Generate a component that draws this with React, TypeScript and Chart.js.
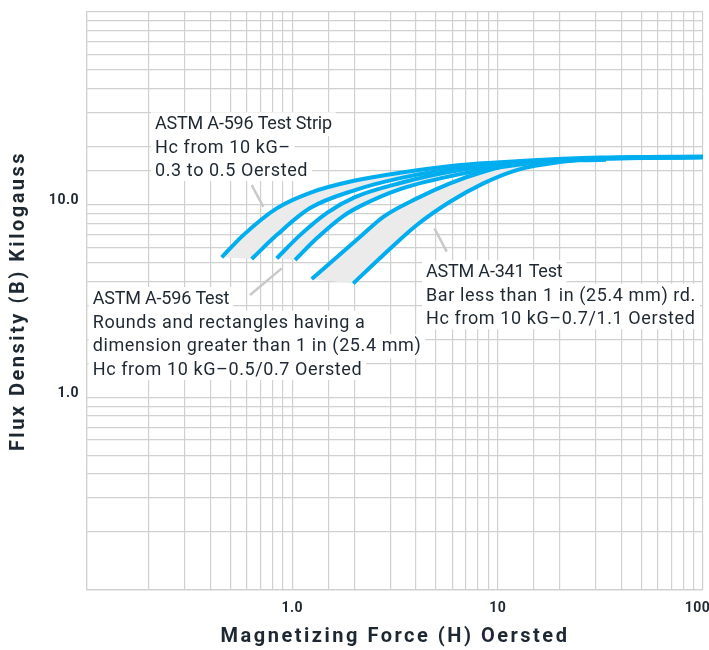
import React, { useEffect, useRef } from 'react';
import { Chart, registerables } from 'chart.js';

Chart.register(...registerables);

// Magnetizing force H (Oersted) and flux density B (kilogauss)
const stripA_H = [0.453, 0.577, 0.839, 1.22, 2.02, 3.35, 6.56, 12.85, 31.5, 100];
const stripA_B = [5.33, 6.95, 9.57, 11.53, 13.34, 14.64, 16.05, 16.84, 17.55, 17.77];
const stripB_H = [0.634, 0.839, 1.22, 2.02, 3.35, 6.56, 12.85, 33.7];
const stripB_B = [5.22, 6.95, 9.6, 11.91, 13.74, 15.48, 16.63, 17.1];
const roundsA_H = [0.839, 1.09, 1.47, 2.02, 3.35, 6.56, 12.85, 33.7, 100];
const roundsA_B = [5.26, 6.95, 9.05, 10.95, 12.95, 15.12, 16.44, 17.45, 17.66];
const roundsB_H = [1.031, 1.315, 1.77, 2.14, 3.35, 6.56, 12.85, 33.7, 100];
const roundsB_B = [5.16, 6.69, 8.73, 9.83, 12.05, 14.41, 16.15, 17.34, 17.66];
const barA_H = [1.243, 2.14, 2.775, 4.04, 5.86, 8.52, 12.85, 20.1, 33.7, 100];
const barA_B = [4.11, 6.81, 8.65, 10.78, 12.9, 14.82, 16.44, 17.04, 17.45, 17.66];
const barB_H = [1.98, 2.775, 4.04, 5.86, 8.52, 12.39, 20.1, 33.7, 100];
const barB_B = [3.9, 5.48, 7.84, 10.35, 12.9, 15.12, 16.63, 17.34, 17.55];

const xTickValues = [1, 10, 100];
const xTickLabels = ['1.0', '10', '100\u2002\u2009'];
const yTickValues = [1, 10];
const yTickLabels = ['1.0', '10.0'];

const xTitle = 'Magnetizing Force (H) Oersted';
const yTitle = 'Flux Density (B) Kilogauss';

const note1Lines = ['ASTM A-596 Test Strip', 'Hc from 10 kG\u2013', '0.3 to 0.5 Oersted'];
const note2Lines = [
  'ASTM A-596 Test',
  'Rounds and rectangles having a',
  'dimension greater than 1 in (25.4 mm)',
  'Hc from 10 kG\u20130.5/0.7 Oersted',
];
const note3Lines = ['ASTM A-341 Test', 'Bar less than 1 in (25.4 mm) rd.', 'Hc from 10 kG\u20130.7/1.1 Oersted'];

const BLUE = '#00aeef';
const GRID = '#d0d0d0';
const TEXT = '#1e2833';
const BAND = '#ebebeb';

const toPoints = (hs: number[], bs: number[]) => hs.map((h, i) => ({ x: h, y: bs[i] }));

const series = [
  toPoints(stripA_H, stripA_B),
  toPoints(stripB_H, stripB_B),
  toPoints(roundsA_H, roundsA_B),
  toPoints(roundsB_H, roundsB_B),
  toPoints(barA_H, barA_B),
  toPoints(barB_H, barB_B),
];

const bandPairs = [
  [0, 1],
  [2, 3],
  [4, 5],
];

const notes = [
  { lines: note1Lines, x: 155, y: 129.3, gap: 23.4, leader: [[0.634, 12.64], [0.7227, 9.75]] },
  { lines: note2Lines, x: 92.7, y: 304, gap: 23.7, leader: [[0.622, 3.4], [0.888, 4.67]] },
  { lines: note3Lines, x: 426, y: 277.3, gap: 23.5, leader: [[4.92, 7.53], [5.65, 5.7]] },
];

const near = (a: number, b: number) => Math.abs(a - b) < 1e-6 * Math.max(1, b);

function tracePts(ctx: CanvasRenderingContext2D, pts: any[], reverse: boolean, first: boolean) {
  const p = reverse ? [...pts].reverse() : pts;
  if (first) ctx.moveTo(p[0].x, p[0].y);
  else ctx.lineTo(p[0].x, p[0].y);
  for (let i = 1; i < p.length; i++) {
    const prev = p[i - 1];
    const cur = p[i];
    if (prev.cp2x === undefined || cur.cp1x === undefined) {
      ctx.lineTo(cur.x, cur.y);
    } else if (!reverse) {
      ctx.bezierCurveTo(prev.cp2x, prev.cp2y, cur.cp1x, cur.cp1y, cur.x, cur.y);
    } else {
      ctx.bezierCurveTo(prev.cp1x, prev.cp1y, cur.cp2x, cur.cp2y, cur.x, cur.y);
    }
  }
}

const bandsPlugin = {
  id: 'bands',
  beforeDatasetsDraw(chart: any) {
    const ctx = chart.ctx as CanvasRenderingContext2D;
    const area = chart.chartArea;
    ctx.save();
    ctx.beginPath();
    ctx.rect(area.left, area.top, area.right - area.left, area.bottom - area.top);
    ctx.clip();
    ctx.fillStyle = BAND;
    for (const [a, b] of bandPairs) {
      const ma = chart.getDatasetMeta(a);
      const mb = chart.getDatasetMeta(b);
      ma.dataset.updateControlPoints(area, 'x');
      mb.dataset.updateControlPoints(area, 'x');
      ctx.beginPath();
      tracePts(ctx, ma.data, false, true);
      tracePts(ctx, mb.data, true, false);
      ctx.closePath();
      ctx.fill();
    }
    ctx.restore();
    // tick labels (drawn after the datasets) get a narrower letter spacing
    (ctx as any).letterSpacing = '0.5px';
  },
};

const spacingPlugin = {
  id: 'spacing',
  beforeDraw(chart: any) {
    (chart.ctx as any).letterSpacing = '2.5px';
  },
};

const notesPlugin = {
  id: 'notes',
  afterDraw(chart: any) {
    const ctx = chart.ctx as CanvasRenderingContext2D;
    const xs = chart.scales.x;
    const ys = chart.scales.y;
    ctx.save();
    ctx.font = '18px Roboto';
    ctx.textBaseline = 'alphabetic';
    ctx.textAlign = 'left';
    const spacingFor = (i: number) => (i === 0 ? '-0.2px' : '0.6px');
    for (const n of notes) {
      n.lines.forEach((t, i) => {
        (ctx as any).letterSpacing = spacingFor(i);
        const by = n.y + i * n.gap;
        const w = ctx.measureText(t).width;
        const top = by - 17;
        const h = i === n.lines.length - 1 ? 22 : n.gap + 0.5;
        ctx.fillStyle = '#ffffff';
        ctx.fillRect(n.x - 4, top, w + 8, h);
      });
    }
    for (const n of notes) {
      ctx.fillStyle = TEXT;
      n.lines.forEach((t, i) => {
        (ctx as any).letterSpacing = spacingFor(i);
        ctx.fillText(t, n.x, n.y + i * n.gap);
      });
      ctx.strokeStyle = '#c9c9c9';
      ctx.lineWidth = 2.5;
      ctx.lineCap = 'butt';
      ctx.beginPath();
      ctx.moveTo(xs.getPixelForValue(n.leader[0][0]), ys.getPixelForValue(n.leader[0][1]));
      ctx.lineTo(xs.getPixelForValue(n.leader[1][0]), ys.getPixelForValue(n.leader[1][1]));
      ctx.stroke();
    }
    ctx.restore();
    (ctx as any).letterSpacing = '0px';
  },
};

export default function App() {
  const ref = useRef<HTMLCanvasElement>(null);
  useEffect(() => {
    if (!ref.current) return;
    Chart.defaults.font.family = 'Roboto';
    const chart = new Chart(ref.current, {
      type: 'line',
      data: {
        datasets: series.map((pts) => ({
          data: pts,
          borderColor: BLUE,
          borderWidth: 4,
          pointRadius: 0,
          pointHoverRadius: 0,
          fill: false,
          cubicInterpolationMode: 'monotone' as const,
          borderCapStyle: 'butt' as const,
          borderJoinStyle: 'round' as const,
        })),
      },
      options: {
        responsive: false,
        animation: false,
        events: [],
        layout: { padding: { top: 12, right: 6, left: 0, bottom: 0 } },
        plugins: {
          legend: { display: false },
          tooltip: { enabled: false },
        },
        scales: {
          x: {
            type: 'logarithmic',
            position: 'bottom',
            min: 0.1,
            max: 100,
            grid: { color: GRID, lineWidth: 1.2, drawTicks: false },
            border: { color: GRID, width: 1.2 },
            ticks: {
              autoSkip: false,
              maxRotation: 0,
              minRotation: 0,
              padding: 10,
              z: 1,
              color: TEXT,
              font: { size: 14, weight: 'bold' },
              callback: (v: any) => {
                const i = xTickValues.findIndex((t) => near(Number(v), t));
                return i >= 0 ? xTickLabels[i] : '';
              },
            },
            title: {
              display: true,
              text: xTitle,
              color: TEXT,
              font: { size: 20, weight: 'bold', lineHeight: 1 },
              padding: { top: 0, bottom: 3.5 },
            },
            afterFit: (s: any) => {
              s.height = 60;
              s.paddingLeft = 0;
              s.paddingRight = 0;
            },
          },
          y: {
            type: 'logarithmic',
            min: 0.1,
            max: 100,
            grid: { color: GRID, lineWidth: 1.2, drawTicks: false },
            border: { color: GRID, width: 1.2 },
            ticks: {
              autoSkip: false,
              padding: 8,
              z: 1,
              labelOffset: -4,
              color: TEXT,
              font: { size: 14, weight: 'bold' },
              callback: (v: any) => {
                const i = yTickValues.findIndex((t) => near(Number(v), t));
                return i >= 0 ? yTickLabels[i] : '';
              },
            },
            title: {
              display: true,
              text: yTitle,
              color: TEXT,
              font: { size: 20, weight: 'bold', lineHeight: 1 },
              padding: { top: 9, bottom: 0 },
            },
            afterFit: (s: any) => {
              s.width = 87;
              s.paddingTop = 0;
              s.paddingBottom = 0;
            },
          },
        },
      } as any,
      plugins: [spacingPlugin, bandsPlugin, notesPlugin],
    });
    return () => chart.destroy();
  }, []);
  return (
    <div style={{ position: 'absolute', left: 0, top: 0, width: 709, height: 650, background: '#ffffff' }}>
      <canvas ref={ref} width={709} height={650} style={{ display: 'block' }} />
    </div>
  );
}
